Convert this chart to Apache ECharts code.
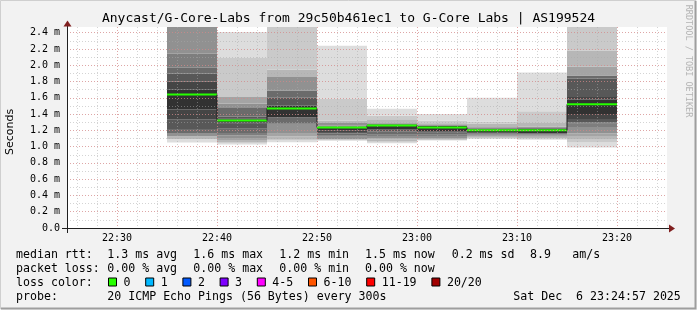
<!DOCTYPE html>
<html><head><meta charset="utf-8">
<script src="https://cdn.jsdelivr.net/npm/echarts@6/dist/echarts.min.js"></script>
<style>html,body{margin:0;padding:0;background:#f2f2f2}#c{width:697px;height:310px}</style>
</head><body><div id="c"></div>
<script>
// ---------- data ----------
const titleText = 'Anycast/G-Core-Labs from 29c50b461ec1 to G-Core Labs | AS199524';
const xRange = ['22:25', '23:25'];
const stepStarts = ['22:35','22:40','22:45','22:50','22:55','23:00','23:05','23:10','23:15'];
const stepMinutes = 5;
const medians = [1.64, 1.32, 1.47, 1.235, 1.26, 1.235, 1.20, 1.20, 1.52]; // ms
// 20 sorted ping RTTs (ms) per step
const pings1 = [1.05,1.094,1.094,1.126,1.126,1.167,1.167,1.217,1.335,1.455,1.70,1.80,1.90,1.97,2.14,2.6,2.7,2.8,2.9,3.0];
const pings2 = [1.026,1.04,1.05,1.08,1.105,1.14,1.167,1.22,1.28,1.30,1.335,1.35,1.37,1.475,1.475,1.53,1.61,1.61,2.09,2.41];
const pings3 = [1.055,1.075,1.095,1.125,1.157,1.28,1.28,1.36,1.36,1.36,1.505,1.505,1.60,1.69,1.69,1.855,1.855,1.945,2.55,2.7];
const pings4 = [1.075,1.075,1.085,1.095,1.095,1.12,1.135,1.16,1.18,1.20,1.24,1.245,1.25,1.26,1.26,1.29,1.29,1.32,1.59,2.24];
const pings5 = [1.04,1.05,1.065,1.09,1.10,1.13,1.145,1.19,1.205,1.21,1.27,1.275,1.28,1.28,1.285,1.29,1.30,1.335,1.38,1.465];
const pings6 = [1.075,1.08,1.085,1.095,1.10,1.13,1.145,1.17,1.18,1.185,1.255,1.256,1.258,1.26,1.265,1.27,1.28,1.29,1.32,1.40];
const pings7 = [1.095,1.10,1.11,1.12,1.125,1.14,1.15,1.16,1.165,1.17,1.215,1.22,1.225,1.23,1.235,1.24,1.24,1.28,1.31,1.60];
const pings8 = [1.085,1.09,1.10,1.11,1.125,1.14,1.15,1.155,1.16,1.165,1.22,1.225,1.23,1.235,1.24,1.245,1.245,1.29,1.435,1.91];
const pings9 = [0.99,1.05,1.095,1.13,1.16,1.24,1.28,1.30,1.34,1.40,1.58,1.61,1.835,1.875,1.875,1.875,1.985,2.18,2.55,2.7];
const smoke = [pings1,pings2,pings3,pings4,pings5,pings6,pings7,pings8,pings9];
const yMax = 2.47;
const yStep = 0.2, yMinorStep = 0.1;
const xMajorMin = 10, xMinorMin = 2;

const legendRttLabel = 'median rtt:';
const legendRtt = ['1.3 ms avg','1.6 ms max','1.2 ms min','1.5 ms now','0.2 ms sd','8.9','am/s'];
const legendLossLabel = 'packet loss:';
const legendLoss = ['0.00 % avg','0.00 % max','0.00 % min','0.00 % now'];
const lossColorLabel = 'loss color:';
const lossLabels = ['0','1','2','3','4-5','6-10','11-19','20/20'];
const lossColors = ['#26ff00','#00b8ff','#0059ff','#7e00ff','#ff00ff','#ff5500','#ff0000','#a10000'];
const probeLabel = 'probe:';
const probeText = '20 ICMP Echo Pings (56 Bytes) every 300s';
const dateText = 'Sat Dec  6 23:24:57 2025';
const watermark = 'RRDTOOL / TOBI OETIKER';
const yName = 'Seconds';

// ---------- helpers ----------
const toMin = s => { const [h, m] = s.split(':').map(Number); return h * 60 + m; };
const fmtMin = v => String(Math.floor(v / 60)).padStart(2, '0') + ':' + String(Math.round(v % 60)).padStart(2, '0');
const data = stepStarts.map((s, i) => [toMin(s), toMin(s) + stepMinutes, medians[i]]);

const MONO = '"DejaVu Sans Mono", monospace';
const gridL = 67, gridR = 30, gridT = 27, gridB = 82;
const majorGrid = { show: true, lineStyle: { color: 'rgba(232,120,120,0.5)', width: 1, type: [1, 2] }, showMinLine: false, showMaxLine: false };
const minorGrid = { show: true, lineStyle: { color: 'rgba(170,170,170,0.5)', width: 1, type: [1, 2] }, showMinLine: false, showMaxLine: false };

function renderItem(params, api) {
  const i = params.dataIndex;
  const t0 = api.value(0), t1 = api.value(1), med = api.value(2);
  const p = smoke[i].slice().sort((a, b) => a - b);
  const n = p.length, half = n / 2;
  const children = [];
  for (let k = 0; k < n - 1; k++) {
    const lo = p[k], hi = p[k + 1];
    if (hi <= lo) continue;
    const a = api.coord([t0, hi]), b = api.coord([t1, lo]);
    const ibot = Math.min(k + 1, n - 1 - k);
    const g = Math.floor(190 / half * (half - ibot)) + 50;
    children.push({ type: 'rect', shape: { x: a[0], y: a[1], width: b[0] - a[0], height: b[1] - a[1] },
      style: { fill: 'rgb(' + g + ',' + g + ',' + g + ')' } });
  }
  if (i > 0) {
    const a = api.coord([t0, medians[i - 1]]), b = api.coord([t0, med]);
    children.push({ type: 'line', shape: { x1: a[0], y1: a[1], x2: b[0], y2: b[1] }, style: { stroke: '#202020', lineWidth: 1 } });
  }
  const m0 = api.coord([t0, med]), m1 = api.coord([t1, med]);
  children.push({ type: 'line', shape: { x1: m0[0], y1: m0[1], x2: m1[0], y2: m1[1] }, style: { stroke: lossColors[0], lineWidth: 2 } });
  return { type: 'group', children };
}

// ---------- legend graphics ----------
const g = [];
const txt = (text, x, y, extra) => Object.assign({ type: 'text', silent: true, style: { text, x, y, font: '11.6px ' + MONO, fill: '#000', verticalAlign: 'middle' } }, extra || {});
const colX = [107.3, 193.3, 279.3, 365, 451.7, 530, 572.3];
const rowY = [254.5, 268.5, 282.5, 296.5];
g.push(txt(legendRttLabel, 16, rowY[0]));
legendRtt.forEach((s, i) => g.push(txt(s, colX[i], rowY[0])));
g.push(txt(legendLossLabel, 16, rowY[1]));
legendLoss.forEach((s, i) => g.push(txt(s, colX[i], rowY[1])));
g.push(txt(lossColorLabel, 16, rowY[2]));
let bx = 108.5;
lossLabels.forEach((s, i) => {
  g.push({ type: 'rect', silent: true, shape: { x: bx, y: rowY[2] - 4.5, width: 8, height: 8 }, style: { fill: lossColors[i], stroke: '#000', lineWidth: 1 } });
  g.push(txt(s, bx + 15, rowY[2]));
  bx += 15 + s.length * 7 + 15.2;
});
g.push(txt(probeLabel, 16, rowY[3]));
g.push(txt(probeText, 107.3, rowY[3]));
g.push(txt(dateText, 513.3, rowY[3]));
g.push({ type: 'text', silent: true, style: { text: titleText, x: 348.5, y: 19, font: '13px ' + MONO, fill: '#000', align: 'center', verticalAlign: 'middle' } });
g.push({ type: 'text', silent: true, x: 10.5, y: 132, rotation: Math.PI / 2, style: { text: yName, x: 0, y: 0, font: '11px "DejaVu Sans", sans-serif', fill: '#000', align: 'center', verticalAlign: 'middle' } });
g.push({ type: 'text', silent: true, x: 688, y: 61, rotation: -Math.PI / 2, style: { text: watermark, x: 0, y: 0, font: '8.5px ' + MONO, fill: '#b4b4b4', align: 'center', verticalAlign: 'middle' } });
// axis extensions & arrows
g.push({ type: 'line', silent: true, shape: { x1: 62, y1: 228.5, x2: 670, y2: 228.5 }, style: { stroke: '#1f1f1f', lineWidth: 1 }, z: 20 });
g.push({ type: 'line', silent: true, shape: { x1: 67.5, y1: 233, x2: 67.5, y2: 24 }, style: { stroke: '#1f1f1f', lineWidth: 1 }, z: 20 });
g.push({ type: 'polygon', silent: true, shape: { points: [[669, 224.5], [675, 228.5], [669, 232.5]] }, style: { fill: '#801f1f' }, z: 20 });
g.push({ type: 'polygon', silent: true, shape: { points: [[63.5, 26.5], [67.5, 20.5], [71.5, 26.5]] }, style: { fill: '#801f1f' }, z: 20 });
// frame
g.push({ type: 'polyline', silent: true, shape: { points: [[0.5, 309], [0.5, 0.5], [696, 0.5]] }, style: { stroke: '#cfcfcf', lineWidth: 1, fill: null } });
g.push({ type: 'polyline', silent: true, shape: { points: [[1, 308.5], [695.5, 308.5], [695.5, 1]] }, style: { stroke: '#9e9e9e', lineWidth: 2, fill: null } });

// ---------- chart ----------
const chart = echarts.init(document.getElementById('c'), null, { renderer: 'canvas' });
chart.setOption({
  animation: false,
  backgroundColor: '#f2f2f2',
  grid: { left: gridL, right: gridR, top: gridT, bottom: gridB, show: true, backgroundColor: '#ffffff', borderWidth: 0 },
  xAxis: [
    { type: 'value', min: toMin(xRange[0]), max: toMin(xRange[1]), minInterval: xMajorMin, maxInterval: xMajorMin, z: 10,
      axisLine: { show: false }, axisTick: { show: false },
      axisLabel: { margin: 5, fontFamily: MONO, fontSize: 10, color: '#000', showMinLabel: false, showMaxLabel: false,
        formatter: v => (v % xMajorMin === 0 ? fmtMin(v) : '') },
      splitLine: majorGrid },
    { type: 'value', position: 'top', min: toMin(xRange[0]), max: toMin(xRange[1]), minInterval: xMinorMin, maxInterval: xMinorMin, z: 9,
      axisLine: { show: false }, axisTick: { show: false }, axisLabel: { show: false }, splitLine: minorGrid }
  ],
  yAxis: [
    { type: 'value', min: 0, max: yMax, interval: yStep, z: 10,
      axisLine: { show: false }, axisTick: { show: false },
      axisLabel: { margin: 7, fontFamily: MONO, fontSize: 10, color: '#000', showMaxLabel: false,
        formatter: v => (Math.abs(v) < 1e-9 ? '0.0' : v.toFixed(1) + ' m') },
      splitLine: majorGrid },
    { type: 'value', position: 'right', min: 0, max: yMax, interval: yMinorStep, z: 9,
      axisLine: { show: false }, axisTick: { show: false }, axisLabel: { show: false }, splitLine: minorGrid }
  ],
  series: [{ type: 'custom', xAxisIndex: 0, yAxisIndex: 0, z: 2, clip: true, silent: true, renderItem,
    encode: { x: [0, 1], y: 2 }, data }],
  graphic: { elements: g }
});
</script></body></html>
